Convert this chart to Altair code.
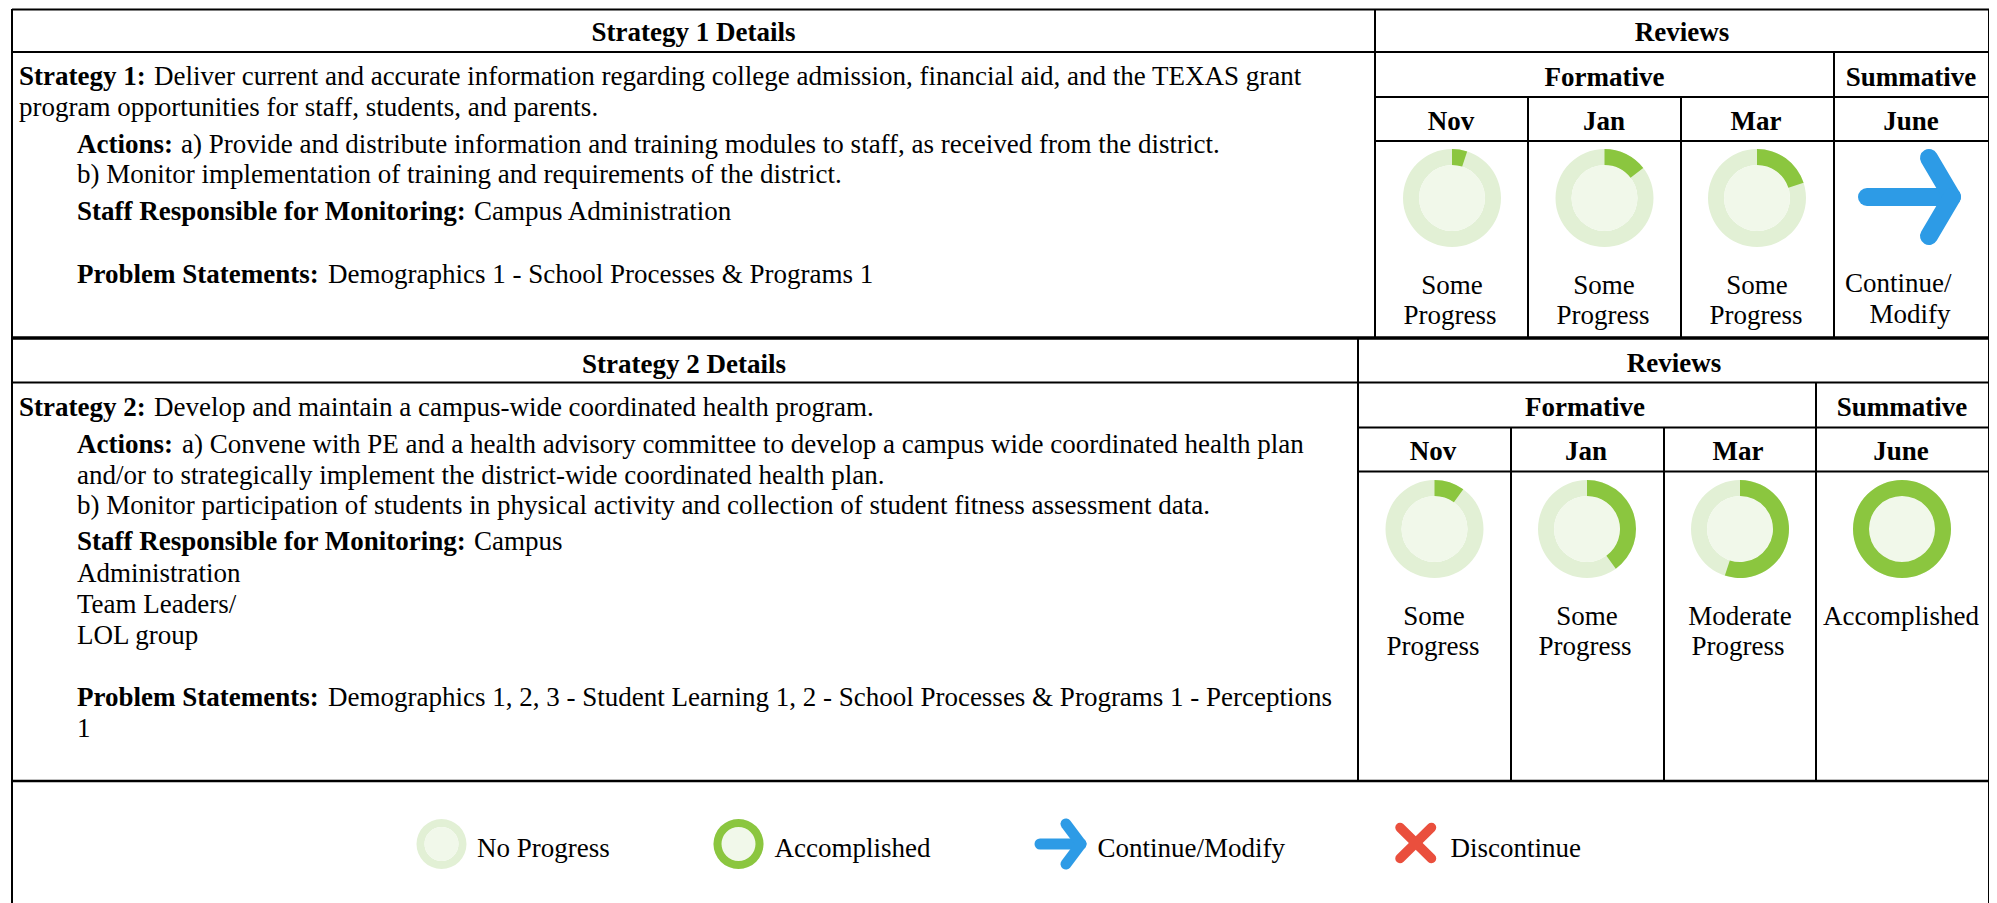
import altair as alt
import pandas as pd

FONT = "Liberation Serif"
FS = 27

# ---- grid lines: (x, y, x2, y2, weight)
h_lines = [
    (12, 9.5, 1989, 9.5, 2), (12, 52, 1989, 52, 2), (1375, 97, 1989, 97, 2), (1375, 141, 1989, 141, 2),
    (12, 338, 1989, 338, 3.5), (12, 382.5, 1989, 382.5, 2), (1358, 427.5, 1989, 427.5, 2),
    (1358, 471.5, 1989, 471.5, 2), (12, 781, 1989, 781, 2.5),
]
v_lines = [
    (12, 9, 12, 903, 2), (1989, 9, 1989, 903, 2),
    (1375, 9, 1375, 338, 2), (1528, 97, 1528, 338, 2), (1681, 97, 1681, 338, 2), (1834, 52, 1834, 338, 2),
    (1358, 338, 1358, 781, 2), (1511, 427, 1511, 781, 2), (1664, 427, 1664, 781, 2), (1816, 382, 1816, 781, 2),
]

# ---- progress rings: (centre x, centre y, percent complete)
rings = [
    (1452, 198, 5), (1604.5, 198, 14.5), (1757, 198, 20),
    (1434.5, 529, 10), (1587, 529, 40), (1740, 529, 55), (1902, 529, 100),
]
legend_rings = [(441.5, 844, 0), (738.5, 844, 100)]

# ---- arrows / cross, as stroke segments: (x, y, x2, y2)
arrow_big = [(1867, 197, 1950, 197), (1929, 158, 1952, 197), (1929, 236, 1952, 197)]
arrow_small = [(1040, 844, 1080, 844), (1066, 824, 1081, 844), (1066, 864, 1081, 844)]
cross = [(1400, 827.5, 1431.5, 858.5), (1431.5, 827.5, 1400, 858.5)]

# ---- texts: (x, baseline y, string)
bold_center = [
    (693.5, 40, "Strategy 1 Details"), (1682, 40, "Reviews"), (1604.5, 85, "Formative"), (1911, 85, "Summative"),
    (1451, 129, "Nov"), (1604, 129, "Jan"), (1756, 129, "Mar"), (1911, 129, "June"),
    (684, 372, "Strategy 2 Details"), (1674, 371, "Reviews"), (1585, 415, "Formative"), (1902, 415, "Summative"),
    (1433, 459, "Nov"), (1586, 459, "Jan"), (1738, 459, "Mar"), (1901, 459, "June"),
]
bold_left = [
    (19, 84, "Strategy 1:"), (77, 152, "Actions:"), (77, 219, "Staff Responsible for Monitoring:"),
    (77, 282, "Problem Statements:"),
    (19, 415, "Strategy 2:"), (77, 452, "Actions:"), (77, 549, "Staff Responsible for Monitoring:"),
    (77, 705, "Problem Statements:"),
]
plain_left = [
    (154, 84, "Deliver current and accurate information regarding college admission, financial aid, and the TEXAS grant"),
    (19, 115, "program opportunities for staff, students, and parents."),
    (181, 152, "a) Provide and distribute information and training modules to staff, as received from the district."),
    (77, 182, "b) Monitor implementation of training and requirements of the district."),
    (474, 219, "Campus Administration"),
    (328, 282, "Demographics 1 - School Processes & Programs 1"),
    (154, 415, "Develop and maintain a campus-wide coordinated health program."),
    (182, 452, "a) Convene with PE and a health advisory committee to develop a campus wide coordinated health plan"),
    (77, 483, "and/or to strategically implement the district-wide coordinated health plan."),
    (77, 513, "b) Monitor participation of students in physical activity and collection of student fitness assessment data."),
    (474, 549, "Campus"), (77, 581, "Administration"), (77, 612, "Team Leaders/"), (77, 643, "LOL group"),
    (328, 705, "Demographics 1, 2, 3 - Student Learning 1, 2 - School Processes & Programs 1 - Perceptions"),
    (77, 736, "1"),
    (1845, 291, "Continue/"),
    (477, 856, "No Progress"), (774.5, 856, "Accomplished"), (1097.5, 856, "Continue/Modify"), (1450.5, 856, "Discontinue"),
]
plain_center = [
    (1452, 293, "Some"), (1450, 323, "Progress"), (1604, 293, "Some"), (1603, 323, "Progress"),
    (1757, 293, "Some"), (1756, 323, "Progress"), (1910, 322, "Modify"),
    (1434, 624, "Some"), (1433, 654, "Progress"), (1587, 624, "Some"), (1585, 654, "Progress"),
    (1740, 624, "Moderate"), (1738, 654, "Progress"), (1901, 624, "Accomplished"),
]

X_SCALE = alt.Scale(domain=[8, 1989], range=[0, 1981], nice=False, zero=False)
Y_SCALE = alt.Scale(domain=[8, 903], range=[0, 895], nice=False, zero=False)
TH_SCALE = alt.Scale(domain=[0, 100], range=[0, 6.283185307], nice=False, zero=False)
x = alt.X("x:Q", scale=X_SCALE, axis=None)
y = alt.Y("y:Q", scale=Y_SCALE, axis=None)


def segs(rows, cols=("x", "y", "x2", "y2")):
    return pd.DataFrame(rows, columns=list(cols))


def rule_layer(rows, color, width=None, cap="butt"):
    if width is None:
        df = segs(rows, ("x", "y", "x2", "y2", "w"))
        return alt.Chart(df).mark_rule(color=color, strokeCap=cap).encode(
            x=x, y=y, x2="x2:Q", y2="y2:Q", strokeWidth=alt.StrokeWidth("w:Q", scale=None))
    return alt.Chart(segs(rows)).mark_rule(color=color, strokeCap=cap, strokeWidth=width).encode(
        x=x, y=y, x2="x2:Q", y2="y2:Q")


def ring_layer(rows, outer, inner, color, full=False):
    df = pd.DataFrame(rows, columns=["x", "y", "pct"])
    df["t0"] = 0
    df["t1"] = 100 if full else df["pct"]
    return alt.Chart(df).mark_arc(radius=outer, radius2=inner, color=color, stroke=None).encode(
        x=x, y=y, theta=alt.Theta("t0:Q", scale=TH_SCALE), theta2="t1:Q")


def text_layer(rows, align, weight):
    df = pd.DataFrame(rows, columns=["x", "y", "label"])
    return alt.Chart(df).mark_text(font=FONT, fontSize=FS, fontWeight=weight, align=align, dy=1,
                                   baseline="alphabetic", color="#000000").encode(
        x=x, y=y, text="label:N")


RING_BG = "#e2f0d5"
RING_IN = "#f1f8ea"
RING_ON = "#8bc63f"
BLUE = "#2d9be6"
RED = "#ea4f3d"

layers = [
    ring_layer(rings, 49, 33, RING_BG, full=True),
    ring_layer(rings, 33, 0, RING_IN, full=True),
    ring_layer(rings, 49, 33, RING_ON),
    ring_layer(legend_rings, 25, 17, RING_BG, full=True),
    ring_layer(legend_rings, 17, 0, RING_IN, full=True),
    ring_layer(legend_rings, 25, 17, RING_ON),
    rule_layer(arrow_big, BLUE, 18, "round"),
    rule_layer(arrow_small, BLUE, 11, "round"),
    rule_layer(cross, RED, 9.5, "round"),
    rule_layer(h_lines + v_lines, "#000000"),
    text_layer(bold_center, "center", "bold"),
    text_layer(bold_left, "left", "bold"),
    text_layer(plain_left, "left", "normal"),
    text_layer(plain_center, "center", "normal"),
]

chart = (
    alt.layer(*layers)
    .properties(width=1981, height=895, padding=0, autosize=alt.AutoSizeParams(type="none"), background="white")
    .configure_view(stroke=None)
)
chart.save("out.html", embed_options={"renderer": "svg", "actions": False})
